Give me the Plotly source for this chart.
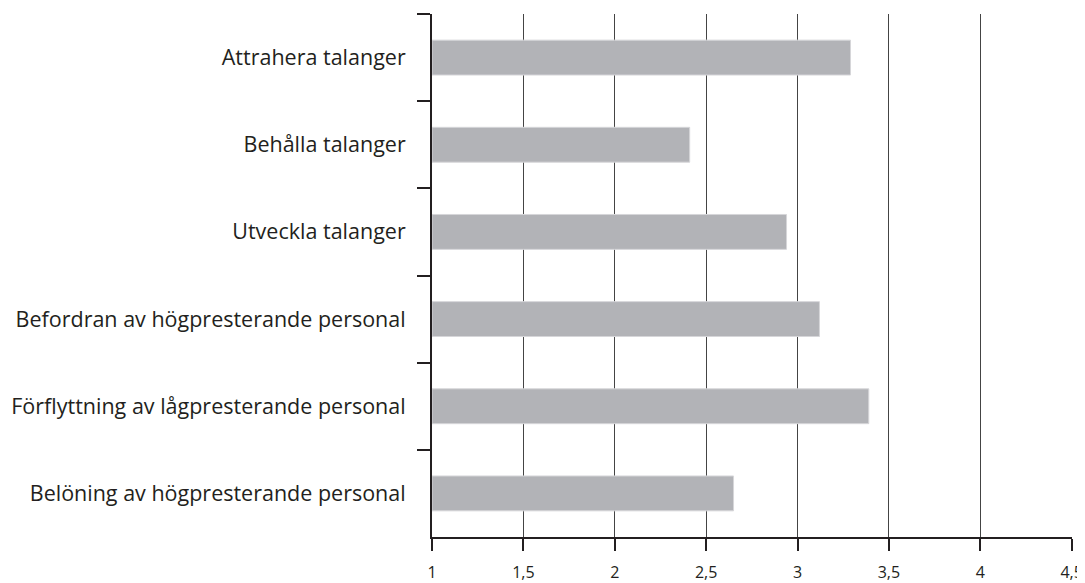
import plotly.graph_objects as go

categories = [
    "Attrahera talanger",
    "Behålla talanger",
    "Utveckla talanger",
    "Befordran av högpresterande personal",
    "Förflyttning av lågpresterande personal",
    "Belöning av högpresterande personal",
]
values = [3.29, 2.41, 2.94, 3.12, 3.39, 2.65]
tick_vals = [1, 1.5, 2, 2.5, 3, 3.5, 4, 4.5]
tick_text = ["1", "1,5", "2", "2,5", "3", "3,5", "4", "4,5"]

fig = go.Figure()
fig.add_trace(go.Bar(
    y=categories,
    x=[v - 1 for v in values],
    base=1,
    orientation="h",
    width=0.4,
    marker=dict(color="#b2b3b7", line=dict(color="#d6d6d9", width=1)),
    showlegend=False,
))

# page body has an 8px margin, so the figure is offset by 8px
fig.update_layout(
    width=1077, height=575,
    margin=dict(l=424, r=13, t=6, b=46),
    paper_bgcolor="white", plot_bgcolor="white",
    font=dict(family="Open Sans", size=21, color="#231f20"),
    bargap=0.6,
)
fig.update_xaxes(
    range=[1, 4.502],
    tickvals=tick_vals, ticktext=tick_text,
    showgrid=True, gridcolor="#444444", gridwidth=1,
    showline=True, linecolor="#231f20", linewidth=2,
    ticks="outside", ticklen=12, tickwidth=2, tickcolor="#231f20",
    tickfont=dict(size=16, color="#231f20"),
    ticklabelstandoff=8,
    ticklabeloverflow="allow",
    zeroline=False,
    automargin=False,
)
fig.update_yaxes(
    categoryorder="array", categoryarray=categories,
    autorange="reversed",
    showgrid=False,
    showline=True, linecolor="#231f20", linewidth=2,
    ticks="outside", ticklen=13, tickwidth=2, tickcolor="#231f20",
    tickson="boundaries",
    ticklabelstandoff=20,
    tickfont=dict(size=21.5, color="#231f20"),
    automargin=False,
)

fig.write_html("out.html")
